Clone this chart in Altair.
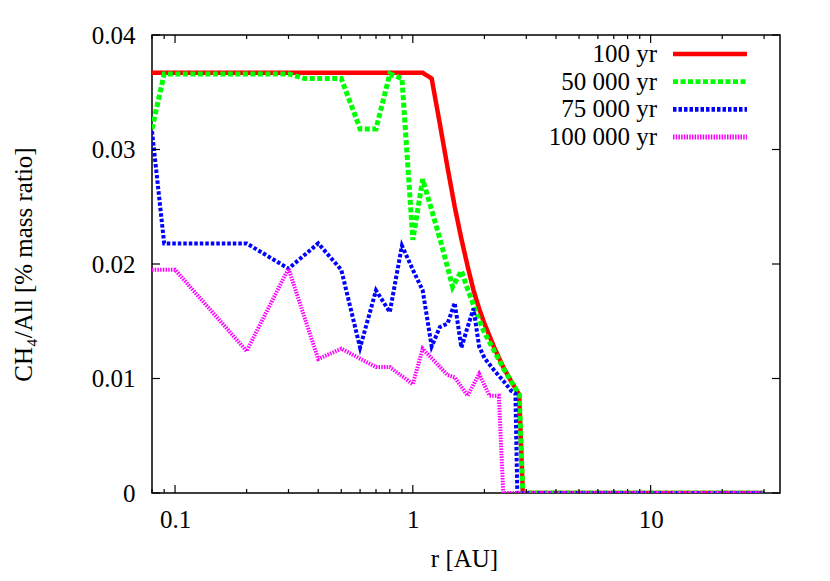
import altair as alt
import pandas as pd

# ---- data ----
names = ["100 yr", "50 000 yr", "75 000 yr", "100 000 yr"]

r_red = [0.08, 1.1, 1.2, 1.3, 1.4, 1.5, 1.6, 1.7, 1.8, 1.9, 2.0, 2.2, 2.4, 2.6, 2.8, 2.9, 30]
v_red = [0.0367, 0.0367, 0.0362, 0.0322, 0.0284, 0.0250, 0.0222, 0.0198, 0.0177, 0.0161,
         0.0148, 0.0127, 0.0110, 0.0097, 0.0086, 0.0, 0.0]

r_green = [0.08, 0.09, 0.3, 0.35, 0.5, 0.6, 0.7, 0.8, 0.9, 1.0, 1.1, 1.2, 1.3, 1.4, 1.47,
           1.6, 1.7, 1.8, 1.9, 2.0, 2.2, 2.4, 2.6, 2.8, 2.9, 30]
v_green = [0.0318, 0.0366, 0.0366, 0.0362, 0.0362, 0.0318, 0.0318, 0.0366, 0.0362, 0.0221,
           0.0274, 0.0247, 0.0222, 0.0197, 0.0180, 0.0194, 0.0178, 0.0164, 0.0151, 0.0140,
           0.0124, 0.0109, 0.0097, 0.0086, 0.0, 0.0]

r_blue = [0.08, 0.09, 0.2, 0.3, 0.4, 0.5, 0.6, 0.7, 0.8, 0.9, 1.0, 1.1, 1.2, 1.3, 1.4, 1.5,
          1.6, 1.7, 1.8, 1.9, 2.0, 2.2, 2.4, 2.6, 2.7, 2.75, 30]
v_blue = [0.0316, 0.0218, 0.0218, 0.0196, 0.0218, 0.0195, 0.0127, 0.0177, 0.0158, 0.0216,
          0.0195, 0.0177, 0.0128, 0.0145, 0.0148, 0.0166, 0.0127, 0.0145, 0.0161, 0.0128,
          0.0118, 0.0107, 0.0098, 0.0089, 0.0087, 0.0, 0.0]

r_mag = [0.08, 0.1, 0.2, 0.3, 0.4, 0.5, 0.7, 0.8, 1.0, 1.1, 1.4, 1.5, 1.7, 1.9, 2.1, 2.3, 2.4, 30]
v_mag = [0.0195, 0.0195, 0.0124, 0.0196, 0.0117, 0.0126, 0.0110, 0.0110, 0.0095, 0.0126,
         0.0103, 0.0101, 0.0085, 0.0104, 0.0085, 0.0085, 0.0, 0.0]

x_major = [0.1, 1, 10]
x_minor = [0.08, 0.09, 0.2, 0.3, 0.4, 0.5, 0.6, 0.7, 0.8, 0.9,
           2, 3, 4, 5, 6, 7, 8, 9, 20, 30]
y_ticks = [0, 0.01, 0.02, 0.03, 0.04]

# ---- styles ----
colors = ["#ff0000", "#00ff00", "#0000ff", "#ff00ff"]
dashes = [[1, 0], [5, 2.5], [3.5, 2], [1.5, 1.2]]
widths = [4.5, 5, 4, 4]

W, H = 628, 458
FONT = "Liberation Serif"

axis_style = dict(labelFont=FONT, labelFontSize=25, titleFont=FONT, titleFontSize=25,
                  labelColor="black", titleColor="black", titleFontWeight="normal",
                  grid=False, ticks=False, domain=False)

xscale = alt.Scale(type="log", domain=[0.08, 35], nice=False)
yscale = alt.Scale(domain=[0, 0.04], nice=False, zero=False)

xaxis = alt.Axis(values=x_major, format="~g", title="r [AU]", labelPadding=14,
                 titleX=312, titleY=73, titleBaseline="alphabetic", titleAlign="center",
                 **axis_style)
yaxis = alt.Axis(values=y_ticks, format="~g", title="CH₄/All [% mass ratio]", labelPadding=17,
                 titleX=-121, titleY=229, titleBaseline="alphabetic", titleAlign="center",
                 titleAngle=270, **axis_style)

series_data = [(r_red, v_red), (r_green, v_green), (r_blue, v_blue), (r_mag, v_mag)]

layers = []
for i, (rs, vs) in enumerate(series_data):
    df = pd.DataFrame({"r": rs, "v": vs})
    layers.append(
        alt.Chart(df).mark_line(color=colors[i], strokeWidth=widths[i], strokeDash=dashes[i],
                                clip=True, strokeJoin="miter", strokeCap="butt")
        .encode(x=alt.X("r:Q", scale=xscale, axis=xaxis),
                y=alt.Y("v:Q", scale=yscale, axis=yaxis))
    )

# inward ticks on all four sides
xmaj = pd.DataFrame({"r": x_major})
xmin = pd.DataFrame({"r": x_minor})
yt = pd.DataFrame({"v": y_ticks})
tick_style = dict(color="black", strokeWidth=1.2)
for dfk, ln in ((xmaj, 8), (xmin, 4)):
    layers.append(alt.Chart(dfk).mark_rule(**tick_style).encode(
        x=alt.X("r:Q", scale=xscale, axis=xaxis), y=alt.value(H), y2=alt.value(H - ln)))
    layers.append(alt.Chart(dfk).mark_rule(**tick_style).encode(
        x=alt.X("r:Q", scale=xscale, axis=xaxis), y=alt.value(0), y2=alt.value(ln)))
layers.append(alt.Chart(yt).mark_rule(**tick_style).encode(
    y=alt.Y("v:Q", scale=yscale, axis=yaxis), x=alt.value(0), x2=alt.value(8)))
layers.append(alt.Chart(yt).mark_rule(**tick_style).encode(
    y=alt.Y("v:Q", scale=yscale, axis=yaxis), x=alt.value(W), x2=alt.value(W - 8)))

main = alt.layer(*layers)

# legend (top right, labels left of samples)
leg = pd.DataFrame({"series": names})
leg_y = alt.Scale(type="point", domain=names, range=[19, 102], padding=0)
leg_text = alt.Chart(leg).mark_text(align="right", baseline="middle", font=FONT,
                                    fontSize=25, color="black").encode(
    x=alt.value(505), y=alt.Y("series:N", scale=leg_y, axis=None), text="series:N")
leg_line = alt.Chart(leg).mark_rule(strokeCap="butt").encode(
    x=alt.value(521), x2=alt.value(595),
    y=alt.Y("series:N", scale=leg_y, axis=None),
    color=alt.Color("series:N", scale=alt.Scale(domain=names, range=colors), legend=None),
    strokeDash=alt.StrokeDash("series:N", scale=alt.Scale(domain=names, range=dashes), legend=None),
    strokeWidth=alt.StrokeWidth("series:N", scale=alt.Scale(domain=names, range=widths), legend=None),
)

chart = (
    alt.layer(main, leg_text, leg_line)
    .resolve_scale(y="independent")
    .properties(width=W, height=H, autosize=alt.AutoSizeParams(type="none"),
                padding={"left": 144, "top": 27, "right": 42, "bottom": 80},
                background="white")
    .configure_view(stroke="black", strokeWidth=1.5)
)

chart.save("out.html", embed_options={"renderer": "svg", "actions": False})
